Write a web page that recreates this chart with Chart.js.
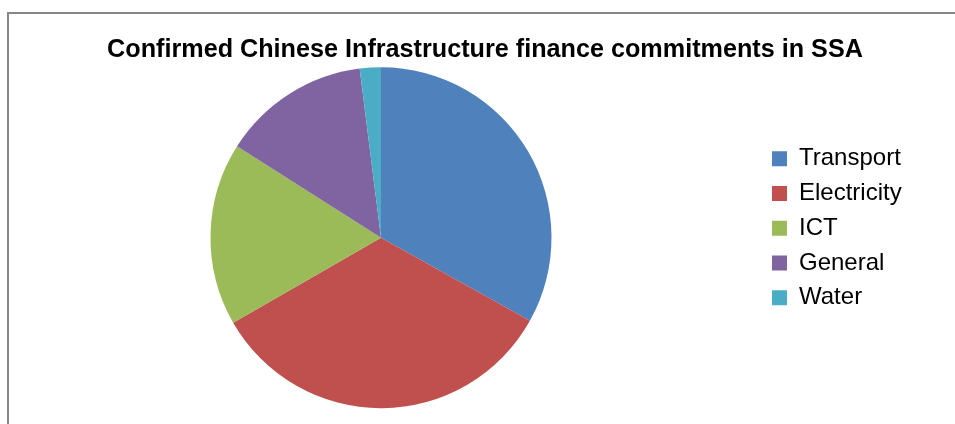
<!DOCTYPE html>
<html>
<head>
<meta charset="utf-8">
<title>Confirmed Chinese Infrastructure finance commitments in SSA</title>
<script src="https://cdn.jsdelivr.net/npm/chart.js@4.4.1/dist/chart.umd.min.js"></script>
<style>
  html, body { margin: 0; padding: 0; background: #fff; }
  #wrap { position: relative; width: 955px; height: 424px; }
</style>
</head>
<body>
<div id="wrap"><canvas id="sectorPie"></canvas></div>
<script>
// share of commitments by sector (%)
const sectors = ['Transport', 'Electricity', 'ICT', 'General', 'Water'];
const shares = [33.1, 33.6, 17.3, 14.0, 2.0];
const sectorColors = ['#4F81BD', '#C0504D', '#9BBB59', '#8064A2', '#4BACC6'];

// grey frame round the chart, open to the right and bottom
const chartFrame = {
  id: 'chartFrame',
  beforeDraw(chart) {
    const ctx = chart.ctx;
    ctx.save();
    ctx.fillStyle = '#ffffff';
    ctx.fillRect(0, 0, chart.width, chart.height);
    ctx.fillStyle = '#878787';
    ctx.fillRect(7, 12, chart.width, 2);
    ctx.fillRect(7, 12, 2, chart.height);
    ctx.restore();
  }
};

// reserve a wider column for the legend so the pie sits further left
const legendColumn = {
  id: 'legendColumn',
  beforeInit(chart) {
    const fit = chart.legend.fit;
    chart.legend.fit = function () {
      fit.call(this);
      this.width = Math.max(this.width, 208);
    };
  }
};

const pieConfig = {
  type: 'pie',
  data: {
    labels: sectors,
    datasets: [{
      data: shares,
      backgroundColor: sectorColors,
      borderWidth: 0,
      radius: 170.5
    }]
  },
  options: {
    responsive: true,
    maintainAspectRatio: false,
    animation: false,
    layout: {
      padding: { top: 41.5, bottom: 9.1, left: 0.75, right: -14.25 }
    },
    plugins: {
      title: {
        display: true,
        text: 'Confirmed Chinese Infrastructure finance commitments in SSA',
        color: '#000',
        font: { family: '"Liberation Sans", Arial, sans-serif', size: 25.2, weight: 'bold', lineHeight: 0.643 },
        padding: { top: 0, bottom: 2.8 }
      },
      legend: {
        position: 'right',
        labels: {
          color: '#000',
          boxWidth: 15,
          boxHeight: 15,
          padding: 10.75,
          font: { family: '"Liberation Sans", Arial, sans-serif', size: 24 }
        }
      },
      tooltip: { enabled: false }
    }
  },
  plugins: [chartFrame, legendColumn]
};

new Chart(document.getElementById('sectorPie'), pieConfig);
</script>
</body>
</html>
